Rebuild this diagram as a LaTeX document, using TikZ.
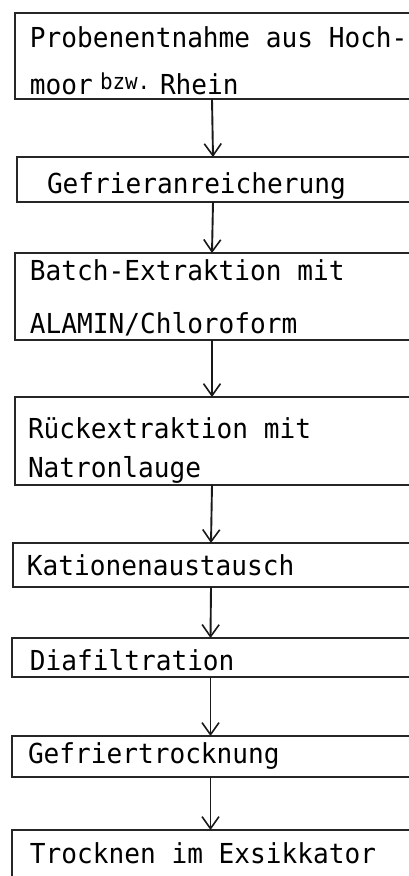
\documentclass[tikz,border=0pt]{standalone}
\usepackage{fontspec}
\newfontfamily\typewriter[FakeStretch=0.95]{DejaVu Sans Mono}
\usetikzlibrary{arrows.meta}

\begin{document}
\begin{tikzpicture}[x=1pt,y=-1pt,
  frame/.style={line width=1.8pt, draw=black!85, line join=miter},
  flow/.style={line width=1.9pt, draw=black!90,
    -{Straight Barb[length=12pt,width=17pt,line width=1.6pt]}},
  stepbox/.style={inner sep=0pt, outer sep=0pt, rectangle},
  steptext/.style={anchor=base west, inner sep=0pt, outer sep=0pt,
    font=\typewriter\fontsize{27.5}{27.5}\selectfont},
  smalltext/.style={anchor=base west, inner sep=0pt, outer sep=0pt,
    font=\typewriter\fontsize{22}{22}\selectfont}]
\useasboundingbox (0,0) rectangle (409,876);

% process steps: boxes open on the right, running off the page edge
\node[stepbox, minimum width=394pt, minimum height=86pt] (b1) at (212,56)    {};
\node[stepbox, minimum width=392pt, minimum height=45pt] (b2) at (213,179.5) {};
\node[stepbox, minimum width=394pt, minimum height=87pt] (b3) at (212,296.5) {};
\node[stepbox, minimum width=394pt, minimum height=88pt] (b4) at (212,441)   {};
\node[stepbox, minimum width=396pt, minimum height=44pt] (b5) at (211,565)   {};
\node[stepbox, minimum width=397pt, minimum height=39pt] (b6) at (210.5,657.5) {};
\node[stepbox, minimum width=397pt, minimum height=41pt] (b7) at (210.5,756.5) {};
\node[stepbox, minimum width=397pt, minimum height=52pt] (b8) at (210.5,856) {};

\foreach \b in {b1,b2,b3,b4,b5,b6,b7}
  \draw[frame] (\b.north east) -- (\b.north west) -- (\b.south west) -- (\b.south east);
\draw[frame] (b8.north east) -- (b8.north west) -- (b8.south west);

% step labels
\node[steptext] (t1a) at (30,47) {Probenentnahme aus Hoch-};
\node[steptext] (t1b) at (30,94) {moor};
\node[smalltext] (t1c) at (100,89) {bzw.};
\node[steptext] (t1d) at (160,94) {Rhein};
\node[steptext] (t2) at (47,193) {Gefrieranreicherung};
\node[steptext] (t3a) at (30,280) {Batch-Extraktion mit};
\node[steptext] (t3b) at (30,333) {ALAMIN/Chloroform};
\node[steptext] (t4a) at (28,438) {Rückextraktion mit};
\node[steptext] (t4b) at (28,477) {Natronlauge};
\node[steptext] (t5) at (27,575) {Kationenaustausch};
\node[steptext] (t6) at (30,670) {Diafiltration};
\node[steptext] (t7) at (28,763) {Gefriertrocknung};
\node[steptext] (t8) at (30,863) {Trocknen im Exsikkator};

% connectors between consecutive steps
\draw[flow] (b1.south) -- (b2.north);
\draw[flow] (b2.south) -- (b3.north);
\draw[flow] (b3.south) -- (b4.north);
\draw[flow] (b4.south) -- (b5.north);
\draw[flow] (b5.south) -- (b6.north);
\draw[flow] (b6.south) -- (b7.north);
\draw[flow] (b7.south) -- (b8.north);
\end{tikzpicture}
\end{document}
